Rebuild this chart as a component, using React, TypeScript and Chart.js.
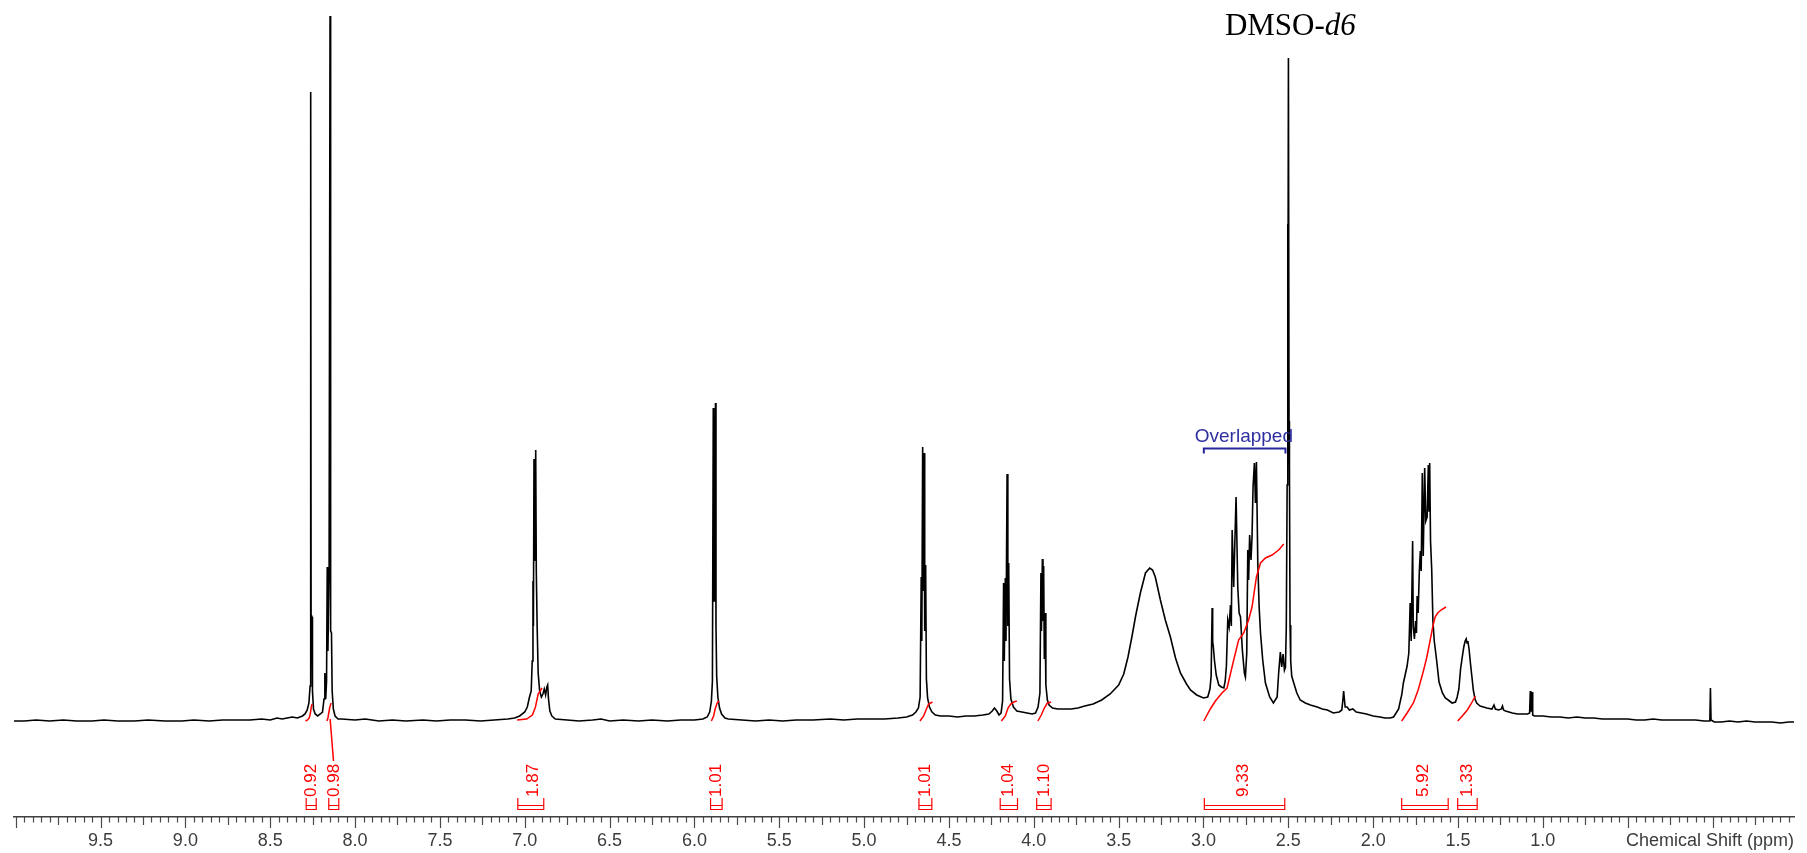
import { useEffect, useRef } from "react";
import { Chart, registerables } from "chart.js";

Chart.register(...registerables);

// ---------- axis ----------
const X_MIN = -0.48;
const X_MAX = 10.01;
const Y_MIN = -96;
const Y_MAX = 721;
const MINOR_STEP = 0.05;
const tickLabelValues = [9.5, 9.0, 8.5, 8.0, 7.5, 7.0, 6.5, 6.0, 5.5, 5.0, 4.5, 4.0, 3.5, 3.0, 2.5, 2.0, 1.5, 1.0];
const axisTitle = "Chemical Shift (ppm)";

// ---------- spectrum (ppm, intensity) ----------
const specLowField: [number, number][] = [
  [10.01, 0], [9.95, 0], [9.88, 1], [9.8, 0], [9.72, 1], [9.64, 0], [9.55, 0], [9.48, 1], [9.4, 0], [9.3, 0],
  [9.22, 1], [9.12, 0], [9.02, 0], [8.95, 1], [8.86, 0], [8.78, 1], [8.7, 1], [8.62, 1], [8.55, 2], [8.5, 1],
  [8.46, 3], [8.43, 2], [8.4, 3], [8.37, 4], [8.34, 3], [8.31, 5], [8.295, 7], [8.282, 11], [8.272, 18], [8.265, 35],
];
const peak826: [number, number][] = [
  [8.2615, 629], [8.259, 60], [8.256, 105], [8.2535, 104], [8.251, 30], [8.245, 12], [8.235, 7], [8.22, 5], [8.205, 7], [8.192, 9],
];
const peak815: [number, number][] = [
  [8.183, 22], [8.178, 48], [8.173, 22], [8.168, 40], [8.164, 154], [8.16, 70], [8.153, 150], [8.1475, 705],
  [8.144, 90], [8.139, 88], [8.135, 30], [8.128, 12], [8.118, 5], [8.1, 2],
];
const specAromBase: [number, number][] = [
  [8.08, 2], [8.0, 1], [7.94, 2], [7.86, 0], [7.78, 1], [7.7, 0], [7.6, 1], [7.52, 0], [7.44, 1], [7.35, 1],
  [7.26, 0], [7.18, 1], [7.1, 2], [7.06, 3], [7.03, 5], [7.0, 9], [6.985, 14], [6.972, 24], [6.962, 30],
];
const peak693: [number, number][] = [
  [6.956, 60], [6.9515, 140], [6.949, 95], [6.9455, 262], [6.942, 160], [6.939, 205], [6.9355, 271], [6.932, 150],
  [6.927, 95], [6.921, 48], [6.912, 30], [6.902, 24], [6.893, 27], [6.885, 32], [6.877, 26], [6.87, 34],
  [6.865, 36], [6.86, 22], [6.852, 10], [6.84, 5], [6.82, 2],
];
const specMidBase: [number, number][] = [
  [6.75, 1], [6.68, 0], [6.6, 1], [6.55, 2], [6.5, 0], [6.42, 1], [6.33, 0], [6.25, 1], [6.16, 0], [6.08, 1],
  [6.0, 1], [5.95, 2], [5.925, 4], [5.91, 9], [5.9, 20], [5.894, 40],
];
const peak588: [number, number][] = [
  [5.889, 313], [5.886, 150], [5.883, 120], [5.8795, 210], [5.876, 318], [5.873, 95], [5.869, 45], [5.862, 24],
  [5.852, 13], [5.84, 7], [5.82, 3], [5.8, 2],
];
const specOlefBase: [number, number][] = [
  [5.72, 1], [5.64, 0], [5.56, 1], [5.48, 0], [5.4, 1], [5.3, 1], [5.2, 2], [5.12, 1], [5.04, 2], [4.96, 2],
  [4.88, 2], [4.8, 3], [4.75, 4], [4.715, 6], [4.695, 9], [4.68, 13], [4.67, 24],
];
const peak464: [number, number][] = [
  [4.6635, 144], [4.66, 80], [4.655, 274], [4.651, 130], [4.647, 268], [4.643, 90], [4.6375, 156], [4.633, 42],
  [4.626, 23], [4.615, 14], [4.6, 9], [4.58, 6], [4.55, 5],
];
const specSugarBase: [number, number][] = [
  [4.5, 5], [4.45, 4], [4.4, 5], [4.35, 5], [4.3, 6], [4.265, 7], [4.245, 10], [4.232, 13], [4.218, 10],
  [4.205, 6], [4.193, 8], [4.184, 20],
];
const peak415: [number, number][] = [
  [4.178, 138], [4.174, 60], [4.168, 143], [4.164, 80], [4.1575, 247], [4.153, 95], [4.148, 158], [4.143, 42],
  [4.135, 22], [4.12, 14], [4.1, 10], [4.07, 9], [4.04, 8], [4.01, 7], [3.99, 8], [3.975, 14], [3.964, 28],
];
const peak394: [number, number][] = [
  [3.958, 148], [3.955, 90], [3.9495, 162], [3.946, 100], [3.942, 155], [3.938, 62], [3.934, 108], [3.929, 36],
  [3.92, 21], [3.91, 16], [3.89, 13], [3.86, 12], [3.82, 12], [3.78, 12], [3.74, 13], [3.7, 15],
];
const waterPeak: [number, number][] = [
  [3.65, 17], [3.6, 21], [3.55, 27], [3.5, 36], [3.47, 47], [3.445, 64], [3.421, 85], [3.4, 105], [3.372, 128],
  [3.342, 148], [3.317, 153], [3.3, 151], [3.284, 144], [3.254, 121], [3.225, 101], [3.195, 84], [3.165, 63],
  [3.136, 48], [3.1, 37], [3.077, 31], [3.04, 26], [3.0, 23], [2.975, 24], [2.962, 32],
];
const overlapRegion: [number, number][] = [
  [2.955, 45], [2.949, 113], [2.946, 80], [2.942, 74], [2.935, 60], [2.925, 46], [2.91, 36], [2.895, 34],
  [2.88, 33], [2.872, 40], [2.865, 55], [2.857, 101], [2.849, 94], [2.841, 116], [2.836, 95], [2.831, 191],
  [2.822, 134], [2.816, 174], [2.808, 224], [2.798, 134], [2.79, 108], [2.782, 104], [2.771, 71], [2.759, 48],
  [2.753, 44], [2.745, 68], [2.739, 171], [2.734, 141], [2.728, 186], [2.72, 161], [2.714, 184], [2.708, 234],
  [2.7, 258], [2.694, 218], [2.688, 259], [2.68, 158], [2.672, 114], [2.664, 88], [2.651, 61], [2.635, 38],
  [2.61, 24], [2.588, 18], [2.566, 24], [2.557, 48], [2.547, 69], [2.539, 54], [2.531, 67], [2.523, 51],
  [2.517, 54], [2.512, 94], [2.507, 236],
];
const dmsoPeak: [number, number][] = [
  [2.5045, 497], [2.502, 300], [2.4995, 663], [2.496, 300], [2.4935, 255], [2.49, 96], [2.486, 60], [2.48, 45],
  [2.468, 38], [2.45, 28], [2.43, 21], [2.4, 18], [2.37, 16], [2.33, 14], [2.3, 12], [2.27, 11], [2.235, 8],
  [2.2, 9], [2.185, 11], [2.178, 22], [2.174, 30], [2.17, 22], [2.165, 14], [2.154, 14], [2.14, 11], [2.12, 12],
  [2.1, 9], [2.07, 8], [2.04, 7], [2.0, 5], [1.96, 4], [1.93, 3], [1.9, 3], [1.88, 4], [1.865, 8],
];
const cluster170: [number, number][] = [
  [1.85, 12], [1.84, 20], [1.832, 26], [1.822, 38], [1.813, 45], [1.8, 55], [1.79, 68], [1.782, 118], [1.776, 80],
  [1.7675, 180], [1.764, 95], [1.757, 82], [1.75, 100], [1.745, 88], [1.741, 125], [1.735, 108], [1.728, 150],
  [1.722, 170], [1.717, 150], [1.7105, 248], [1.705, 165], [1.6965, 253], [1.69, 200], [1.682, 204], [1.675, 256],
  [1.671, 210], [1.667, 258], [1.662, 180], [1.655, 151], [1.648, 100], [1.64, 80], [1.627, 62], [1.612, 39],
  [1.592, 28], [1.575, 23], [1.558, 21], [1.535, 18], [1.515, 19], [1.505, 24],
];
const peak144: [number, number][] = [
  [1.495, 32], [1.485, 52], [1.475, 64], [1.466, 74], [1.458, 80], [1.452, 82], [1.447, 78], [1.442, 80],
  [1.435, 72], [1.427, 58], [1.418, 44], [1.41, 31], [1.4, 22], [1.39, 18], [1.37, 15], [1.35, 14], [1.33, 13],
  [1.3, 12], [1.288, 16], [1.28, 12], [1.26, 11], [1.245, 12], [1.238, 15], [1.232, 11], [1.22, 10], [1.2, 9],
  [1.18, 8], [1.15, 7], [1.12, 7], [1.09, 7], [1.078, 8],
];
const peak106: [number, number][] = [
  [1.074, 30], [1.071, 10], [1.068, 10], [1.064, 29], [1.06, 6], [1.05, 5], [1.0, 5], [0.95, 4], [0.9, 4],
  [0.85, 3], [0.8, 4], [0.75, 3], [0.7, 3], [0.65, 2], [0.6, 2], [0.55, 2], [0.5, 2], [0.45, 1], [0.4, 1],
  [0.35, 2], [0.3, 1], [0.25, 1], [0.2, 1], [0.15, 1], [0.1, 1], [0.05, 0], [0.016, 0],
];
const tmsPeak: [number, number][] = [
  [0.0125, 33], [0.009, 1], [-0.01, -1], [-0.05, -1], [-0.1, 0], [-0.15, -1], [-0.2, 0], [-0.25, -1],
  [-0.3, -1], [-0.35, -1], [-0.4, -2], [-0.45, -1], [-0.48, -1],
];
const spectrumParts = [
  specLowField, peak826, peak815, specAromBase, peak693, specMidBase, peak588, specOlefBase, peak464,
  specSugarBase, peak415, peak394, waterPeak, overlapRegion, dmsoPeak, cluster170, peak144, peak106, tmsPeak,
];

// ---------- integral curves (ppm, intensity) ----------
const int826: [number, number][] = [[8.292, 0], [8.28, 1], [8.27, 3], [8.263, 8], [8.258, 14], [8.253, 17]];
const int815: [number, number][] = [[8.166, 0], [8.16, 3], [8.155, 8], [8.15, 13], [8.145, 16], [8.141, 18]];
const leader815: [number, number][] = [[8.147, 2], [8.127, -40]];
const int693: [number, number][] = [[7.045, 1], [6.989, 2], [6.955, 6], [6.937, 14], [6.921, 27], [6.898, 33]];
const int588: [number, number][] = [[5.9, 0], [5.887, 5], [5.878, 12], [5.866, 18], [5.855, 20]];
const int464: [number, number][] = [[4.671, 0], [4.649, 5], [4.633, 12], [4.62, 17], [4.597, 19]];
const int415: [number, number][] = [[4.191, 0], [4.168, 5], [4.152, 13], [4.136, 17], [4.118, 19], [4.1, 20]];
const int394: [number, number][] = [[3.976, 0], [3.956, 6], [3.938, 13], [3.92, 18], [3.898, 19]];
const int270: [number, number][] = [
  [2.998, 0], [2.96, 12], [2.93, 20], [2.891, 28], [2.861, 33], [2.822, 61], [2.793, 81], [2.763, 88],
  [2.734, 101], [2.714, 114], [2.688, 144], [2.664, 158], [2.635, 163], [2.596, 166], [2.557, 171], [2.527, 177],
];
const int170: [number, number][] = [
  [1.832, 0], [1.8, 8], [1.763, 18], [1.735, 31], [1.707, 48], [1.685, 63], [1.665, 80], [1.648, 95],
  [1.635, 104], [1.62, 108], [1.6, 111], [1.571, 114],
];
const int144: [number, number][] = [[1.502, 0], [1.475, 5], [1.445, 11], [1.42, 18], [1.398, 25]];
const integralCurves = [int826, int815, leader815, int693, int588, int464, int415, int394, int270, int170, int144];

// ---------- integral labels ----------
const integralValues = ["0.92", "0.98", "1.87", "1.01", "1.01", "1.04", "1.10", "9.33", "5.92", "1.33"];
const integralFrom = [8.288, 8.155, 7.041, 5.905, 4.677, 4.198, 3.983, 2.995, 1.832, 1.502];
const integralTo = [8.229, 8.096, 6.888, 5.837, 4.601, 4.096, 3.898, 2.521, 1.558, 1.387];
const integralLabelAt = [8.258, 8.125, 6.95, 5.873, 4.637, 4.152, 3.941, 2.767, 1.707, 1.445];

// ---------- annotations ----------
const solventMain = "DMSO-";
const solventItalic = "d6";
const solventAt: [number, number] = [2.488, 686];
const overlapText = "Overlapped";
const overlapTextAt: [number, number] = [2.762, 279];
const overlapRange = [2.998, 2.517];
const overlapLevel = 272.5;

const SANS = '"Liberation Sans", Arial, sans-serif';
const SERIF = '"Liberation Serif", "Times New Roman", serif';
const TICK_PAD = 13;
const TICK_FONT = 18;

const annotPlugin = {
  id: "nmrAnnotations",
  afterDraw(chart: any) {
    const { ctx, chartArea } = chart;
    const sx = chart.scales.x;
    const sy = chart.scales.y;
    const X = (v: number) => sx.getPixelForValue(v);
    const Y = (v: number) => sy.getPixelForValue(v);
    const base = chartArea.bottom;
    ctx.save();

    // axis tick marks
    ctx.strokeStyle = "#4a4a4a";
    ctx.lineWidth = 1.2;
    ctx.beginPath();
    const kMin = Math.ceil(X_MIN / MINOR_STEP - 1e-9);
    const kMax = Math.floor(X_MAX / MINOR_STEP + 1e-9);
    for (let k = kMin; k <= kMax; k++) {
      const px = Math.round(X(k * MINOR_STEP)) + 0.5;
      const len = k % 10 === 0 ? 11 : k % 5 === 0 ? 8 : 5.5;
      ctx.moveTo(px, base);
      ctx.lineTo(px, base + len);
    }
    ctx.stroke();

    // axis title at right end
    ctx.fillStyle = "#3c3c3c";
    ctx.font = `${TICK_FONT}px ${SANS}`;
    ctx.textAlign = "right";
    ctx.textBaseline = "middle";
    ctx.fillText(axisTitle, chartArea.right, base + TICK_PAD + (TICK_FONT * 1.2) / 2);

    // integral brackets + labels
    ctx.strokeStyle = "#ff0000";
    ctx.fillStyle = "#ff0000";
    ctx.lineWidth = 1.2;
    for (let i = 0; i < integralValues.length; i++) {
      const x1 = X(integralFrom[i]);
      const x2 = X(integralTo[i]);
      const yTop = Y(-77);
      const yA = Y(-84.5);
      const yB = Y(-88.5);
      const yBot = Y(-89);
      ctx.beginPath();
      ctx.moveTo(x1, yTop); ctx.lineTo(x1, yBot);
      ctx.moveTo(x2, yTop); ctx.lineTo(x2, yBot);
      ctx.moveTo(x1, yA); ctx.lineTo(x2, yA);
      ctx.moveTo(x1, yB); ctx.lineTo(x2, yB);
      ctx.stroke();
      ctx.save();
      ctx.translate(X(integralLabelAt[i]), Y(-76));
      ctx.rotate(-Math.PI / 2);
      ctx.font = `17px ${SANS}`;
      ctx.textAlign = "left";
      ctx.textBaseline = "middle";
      ctx.fillText(integralValues[i], 0, 0);
      ctx.restore();
    }

    // Overlapped annotation
    ctx.strokeStyle = "#26269a";
    ctx.fillStyle = "#2f2fa0";
    ctx.lineWidth = 2;
    const ox1 = X(overlapRange[0]);
    const ox2 = X(overlapRange[1]);
    const oy = Y(overlapLevel);
    ctx.beginPath();
    ctx.moveTo(ox1, Y(overlapLevel - 5)); ctx.lineTo(ox1, oy); ctx.lineTo(ox2, oy); ctx.lineTo(ox2, Y(overlapLevel - 5));
    ctx.stroke();
    ctx.font = `19px ${SANS}`;
    ctx.textAlign = "center";
    ctx.textBaseline = "alphabetic";
    ctx.fillText(overlapText, X(overlapTextAt[0]), Y(overlapTextAt[1]));

    // solvent label
    ctx.fillStyle = "#000";
    ctx.font = `31px ${SERIF}`;
    const w1 = ctx.measureText(solventMain).width;
    ctx.font = `italic 31px ${SERIF}`;
    const w2 = ctx.measureText(solventItalic).width;
    const sx0 = X(solventAt[0]) - (w1 + w2) / 2;
    const sy0 = Y(solventAt[1]);
    ctx.textAlign = "left";
    ctx.font = `31px ${SERIF}`;
    ctx.fillText(solventMain, sx0, sy0);
    ctx.font = `italic 31px ${SERIF}`;
    ctx.fillText(solventItalic, sx0 + w1, sy0);

    ctx.restore();
  },
};

export default function App() {
  const ref = useRef<HTMLCanvasElement>(null);
  useEffect(() => {
    document.body.style.margin = "0";
    const spectrum = spectrumParts.flat().map(([x, y]) => ({ x, y }));
    const datasets: any[] = [
      {
        data: spectrum,
        borderColor: "#000000",
        borderWidth: 1.6,
        pointRadius: 0,
        tension: 0,
        order: 2,
      },
      ...integralCurves.map((c) => ({
        data: c.map(([x, y]) => ({ x, y })),
        borderColor: "#ff0000",
        borderWidth: 1.5,
        pointRadius: 0,
        tension: 0,
        order: 1,
      })),
    ];
    const chart = new Chart(ref.current as HTMLCanvasElement, {
      type: "line",
      data: { datasets },
      options: {
        animation: false,
        responsive: true,
        maintainAspectRatio: false,
        events: [],
        layout: { padding: { left: 14, right: 13, top: 0, bottom: -11.6 } },
        plugins: { legend: { display: false }, tooltip: { enabled: false } },
        scales: {
          x: {
            type: "linear",
            reverse: true,
            min: X_MIN,
            max: X_MAX,
            grid: { display: false, drawTicks: false },
            border: { display: true, color: "#404040", width: 1.5 },
            ticks: {
              stepSize: 0.5,
              autoSkip: false,
              maxRotation: 0,
              minRotation: 0,
              padding: TICK_PAD,
              color: "#3c3c3c",
              font: { family: SANS, size: TICK_FONT },
              callback: (value: any) => {
                const v = Number(value);
                const hit = tickLabelValues.find((t) => Math.abs(t - v) < 1e-6);
                return hit === undefined ? "" : hit.toFixed(1);
              },
            },
          },
          y: { display: false, min: Y_MIN, max: Y_MAX },
        },
      },
      plugins: [annotPlugin],
    });
    return () => chart.destroy();
  }, []);
  return (
    <div style={{ width: 1807, height: 853, position: "relative" }}>
      <canvas ref={ref} />
    </div>
  );
}
